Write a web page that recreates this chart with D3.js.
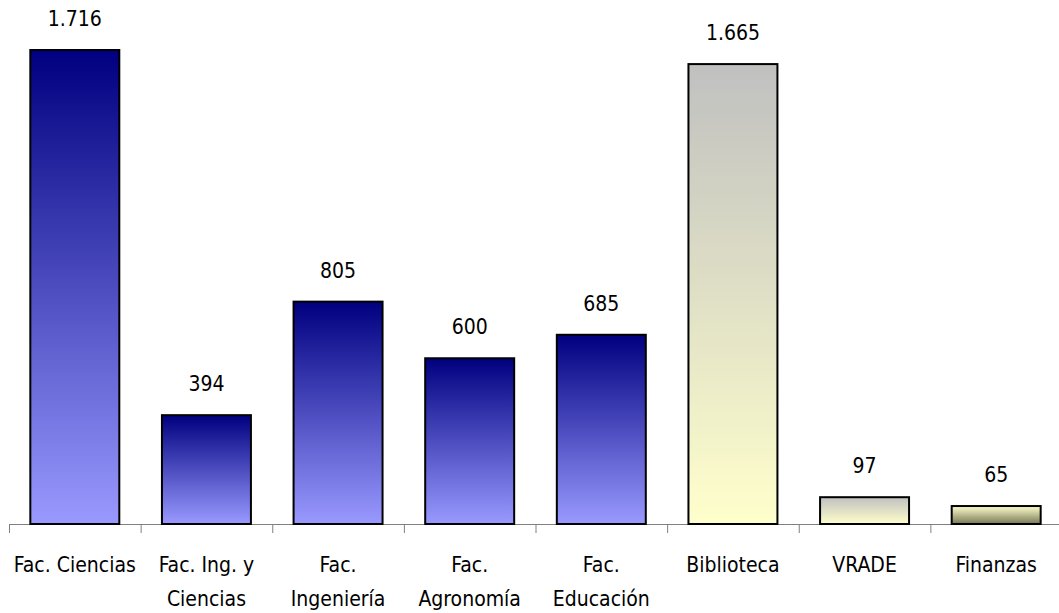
<!DOCTYPE html>
<html lang="es">
<head>
    <meta charset="UTF-8">
    <title>Bar chart</title>
    <script src="https://d3js.org/d3.v7.min.js"></script>
    <style>
        body {
            margin: 0;
            background: #fff;
        }

        svg {
            display: block;
            font-family: 'Liberation Sans Narrow', 'Arial Narrow', 'DejaVu Sans Condensed', sans-serif;
        }
    </style>
</head>
<body>
    <svg id="chart" width="1059" height="613"></svg>

    <script>
        const categories = [
            "Fac. Ciencias",
            "Fac. Ing. y\nCiencias",
            "Fac.\nIngeniería",
            "Fac.\nAgronomía",
            "Fac.\nEducación",
            "Biblioteca",
            "VRADE",
            "Finanzas"
        ];
        const values = [1716, 394, 805, 600, 685, 1665, 97, 65];

        // gradient per bar (top colour -> bottom colour)
        const gradients = {
            blue: ["#000080", "#9999ff"],
            grayYellow: ["#c0c0c0", "#ffffcc"],
            olive: ["#ffffcc", "#777755"]
        };
        const barGradient = ["blue", "blue", "blue", "blue", "blue", "grayYellow", "grayYellow", "olive"];

        const svg = d3.select("#chart");
        const width = +svg.attr("width");

        const x = d3.scaleBand()
            .domain(categories)
            .range([9, 1062])
            .paddingInner(0.324)
            .paddingOuter(0.162);

        const y = d3.scaleLinear()
            .domain([0, 1716])
            .range([524, 50]);

        const fmt = d3.formatLocale({ decimal: ",", thousands: ".", grouping: [3], currency: ["", ""] }).format(",d");

        const defs = svg.append("defs");
        Object.entries(gradients).forEach(([id, c]) => {
            const g = defs.append("linearGradient")
                .attr("id", "grad-" + id)
                .attr("x1", 0).attr("y1", 0)
                .attr("x2", 0).attr("y2", 1);
            g.append("stop").attr("offset", "0%").attr("stop-color", c[0]);
            g.append("stop").attr("offset", "100%").attr("stop-color", c[1]);
        });

        // axis line + ticks between categories
        svg.append("line")
            .attr("x1", 9).attr("x2", width)
            .attr("y1", y(0) + 0.5).attr("y2", y(0) + 0.5)
            .attr("stroke", "#808080")
            .attr("stroke-width", 1);

        const step = x.step();
        svg.selectAll("line.tick")
            .data(categories)
            .join("line")
            .attr("class", "tick")
            .attr("x1", (d, i) => x.range()[0] + i * step + 0.5)
            .attr("x2", (d, i) => x.range()[0] + i * step + 0.5)
            .attr("y1", y(0))
            .attr("y2", y(0) + 9)
            .attr("stroke", "#808080");

        svg.selectAll("rect.bar")
            .data(values)
            .join("rect")
            .attr("class", "bar")
            .attr("x", (d, i) => x(categories[i]))
            .attr("y", d => y(d))
            .attr("width", x.bandwidth())
            .attr("height", d => y(0) - y(d))
            .attr("fill", (d, i) => `url(#grad-${barGradient[i]})`)
            .attr("stroke", "#000")
            .attr("stroke-width", 2);

        svg.selectAll("text.value")
            .data(values)
            .join("text")
            .attr("class", "value")
            .attr("x", (d, i) => x(categories[i]) + x.bandwidth() / 2)
            .attr("y", d => y(d) - 24)
            .attr("text-anchor", "middle")
            .attr("font-size", 21)
            .attr("fill", "#000")
            .text(d => fmt(d));

        const catLabels = svg.selectAll("text.cat")
            .data(categories)
            .join("text")
            .attr("class", "cat")
            .attr("text-anchor", "middle")
            .attr("font-size", 21)
            .attr("fill", "#000");

        catLabels.selectAll("tspan")
            .data(d => d.split("\n").map(line => ({ line, cat: d })))
            .join("tspan")
            .attr("x", d => x(d.cat) + x.bandwidth() / 2)
            .attr("y", (d, i) => 572 + i * 34)
            .text(d => d.line);
    </script>
</body>
</html>
